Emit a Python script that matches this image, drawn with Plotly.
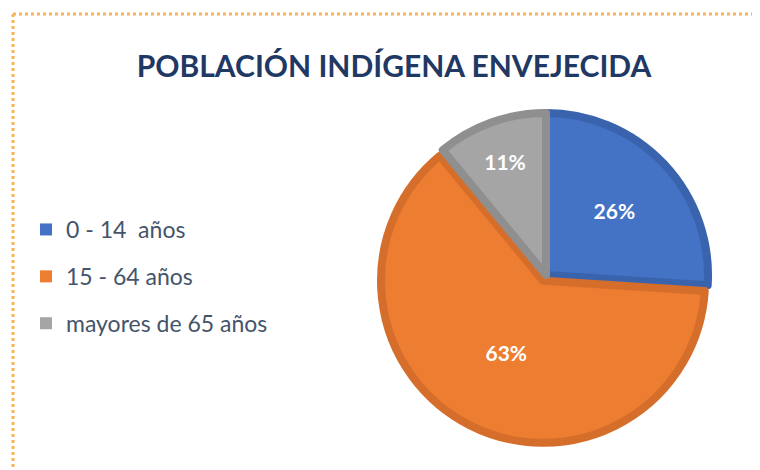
import plotly.graph_objects as go

labels = ["0 - 14  años", "15 - 64 años", "mayores de 65 años"]
values = [26, 63, 11]
colors = ["#4472C4", "#ED7D31", "#A5A5A5"]
border_colors = ["#3A63AD", "#D66E2B", "#8F8F8F"]
pulls = [0, 0.04, 0]

title_text = "POBLACIÓN INDÍGENA ENVEJECIDA"

# The page body has an 8px margin, so the figure is drawn 8px in from the window edge.
OFF = 8
W, H = 760 - OFF, 470 - OFF


def px(x):
    return (x - OFF) / W


def py(y):
    return 1 - (y - OFF) / H


cx, cy, half = 546, 275, 168.5

fig = go.Figure()

fig.add_trace(go.Pie(
    labels=labels,
    values=values,
    sort=False,
    direction="clockwise",
    rotation=0,
    pull=pulls,
    marker=dict(colors=colors, line=dict(color=border_colors, width=8)),
    textinfo="percent",
    texttemplate="%{percent:.0%}",
    textposition="inside",
    insidetextorientation="horizontal",
    textfont=dict(family="Lato", size=21, color="white", weight="bold"),
    showlegend=False,
    domain=dict(x=[px(cx - half), px(cx + half)], y=[py(cy + half), py(cy - half)]),
    hoverinfo="label+percent",
))

# Legend entries (square swatches), one group each to space them like the original
for i, (lab, col) in enumerate(zip(labels, colors)):
    fig.add_trace(go.Scatter(
        x=[None], y=[None], mode="markers", name=lab,
        marker=dict(symbol="square", size=12, color=col),
        legendgroup=f"g{i}", showlegend=True,
    ))

fig.update_layout(
    width=W, height=H,
    margin=dict(l=0, r=0, t=0, b=0),
    paper_bgcolor="white", plot_bgcolor="white",
    xaxis=dict(visible=False), yaxis=dict(visible=False),
    title=dict(
        text=title_text,
        x=px(394), xanchor="center",
        y=py(66), yanchor="middle",
        font=dict(family="Lato", size=30, color="#1F3864", weight="bold"),
    ),
    legend=dict(
        x=px(26), xanchor="left",
        y=py(208), yanchor="top",
        font=dict(family="Lato", size=23, color="#44546A"),
        tracegroupgap=14,
        itemwidth=30,
        bgcolor="rgba(0,0,0,0)",
    ),
    shapes=[
        dict(type="line", xref="paper", yref="paper",
             x0=px(13), x1=1, y0=py(14), y1=py(14),
             line=dict(color="#FBB451", width=3, dash="dot")),
        dict(type="line", xref="paper", yref="paper",
             x0=px(13), x1=px(13), y0=py(14), y1=0,
             line=dict(color="#FBB451", width=3, dash="dot")),
    ],
)

fig.write_html("out.html")
